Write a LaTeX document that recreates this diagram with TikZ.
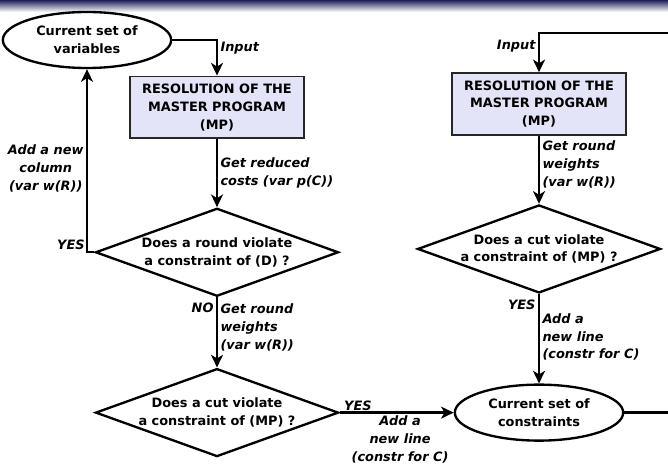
\documentclass[tikz,border=0pt]{standalone}
\usepackage{fontspec}
\setmainfont{DejaVu Sans}
\usepackage{xcolor}
\definecolor{cBox}{HTML}{E4E4F8}
\definecolor{cBar}{HTML}{1E1E5A}
\usetikzlibrary{positioning,arrows.meta,shapes.geometric}
\tikzset{
  node-set/.style={draw,ellipse,line width=2pt,minimum width=50.5mm,
    minimum height=16.8mm,inner sep=0pt,align=center},
  node-box/.style={draw=black!85,line width=1.6pt,fill=cBox,
    minimum width=52.2mm,minimum height=18.5mm,align=center},
  node-test/.style={draw,diamond,line width=2pt,shape aspect=2.76,
    minimum width=72.9mm,minimum height=26.4mm,inner sep=0pt,align=center},
  arrow/.style={-{Stealth[length=3.8mm,width=3.6mm,inset=1.1mm]},line width=2pt},
  lbl/.style={font=\fontsize{11}{15.3}\selectfont\bfseries\itshape,
    align=left,inner sep=2pt},
}

\begin{document}
\begin{tikzpicture}[every node/.append style={font=\fontsize{11}{15.3}\selectfont\bfseries}]
  \clip (0,0) rectangle (200.4mm,-139.8mm);
  \shade[top color=cBar,bottom color=white] (0,0) rectangle (200.4mm,-3.6mm);
  % column generation side
  \node[node-set] (vars) at (26.1mm,-12mm) {Current set of\\variables};
  \node[node-box] (mp1) at (65.1mm,-32.2mm) {RESOLUTION OF THE\\MASTER PROGRAM\\(MP)};
  \node[node-test,below=20.4mm of mp1] (dia1) {Does a round violate\\a constraint of (D) ?};
  \node[node-test,below=21mm of dia1] (dia2) {Does a cut violate\\a constraint of (MP) ?};
  % cut generation side
  \node[node-set,right=34.2mm of dia2] (cons) {Current set of\\constraints};
  \node[node-test,above=26.8mm of cons] (dia3) {Does a cut violate\\a constraint of (MP) ?};
  \node[node-box,above=20.4mm of dia3] (mp2) {RESOLUTION OF THE\\MASTER PROGRAM\\(MP)};
  \coordinate (loop) at (205mm,-9.9mm);
  \draw[arrow] (vars.east) -| (mp1.north) node[lbl,pos=0.62,right] {Input};
  \draw[arrow] (mp1) -- (dia1) node[lbl,midway,right] {Get reduced\\costs (var p(C))};
  \draw[arrow] (dia1.west) -| (vars.south)
    node[lbl,pos=0.5,anchor=south east,inner sep=1pt] {YES}
    node[lbl,pos=0.73,left,align=center] {Add a new\\column\\(var w(R))};
  \draw[arrow] (dia1) -- (dia2)
    node[lbl,pos=0.15,left] {NO}
    node[lbl,pos=0.43,right] {Get round\\weights\\(var w(R))};
  \draw[arrow] (dia2) -- (cons)
    node[lbl,pos=0.16,above,inner sep=1pt] {YES}
    node[lbl,pos=0.53,below,align=center,inner sep=2pt] {Add a\\new line\\(constr for C)};
  \draw[arrow] (cons.east) -| (loop) -| (mp2.north)
    node[lbl,pos=0.665,left] {Input};
  \draw[arrow] (mp2) -- (dia3) node[lbl,pos=0.42,right] {Get round\\weights\\(var w(R))};
  \draw[arrow] (dia3) -- (cons)
    node[lbl,pos=0.12,left] {YES}
    node[lbl,pos=0.48,right] {Add a\\new line\\(constr for C)};
\end{tikzpicture}
\end{document}
